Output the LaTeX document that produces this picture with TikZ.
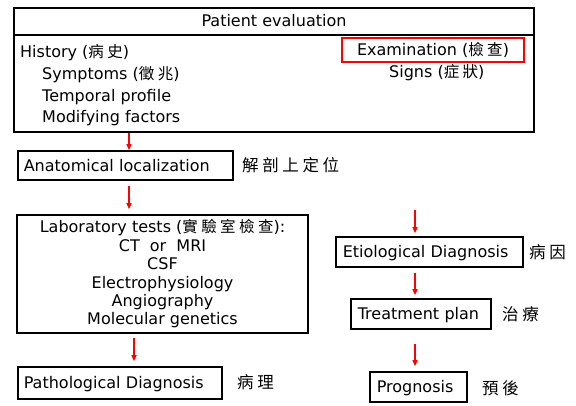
\documentclass[tikz,border=0pt]{standalone}
\usepackage{fontspec}
\setmainfont{DejaVu Sans}
\newfontfamily\cjkfont[LetterSpace=22]{Noto Sans CJK TC}
\usetikzlibrary{arrows.meta,calc}
\newcommand\cj[1]{{\cjkfont\fontsize{15.5}{17}\selectfont #1}}
\newcommand\cjl[1]{{\cjkfont\fontsize{16.5}{18}\selectfont #1}}
\begin{document}
\begin{tikzpicture}[x=1pt,y=-1pt,
  font=\fontsize{16}{18.4}\selectfont,
  boxL/.style={draw, line width=1.6pt, inner ysep=0pt, text height=11.7pt, text depth=0pt, align=left, anchor=west},
  txt/.style={inner sep=0pt, anchor=base west},
  lbl/.style={inner sep=0pt, anchor=west},
  arr/.style={draw=red, line width=1.2pt, -{Triangle[length=6pt,width=5pt]}}
]
\useasboundingbox (0,0) rectangle (576,406);

% top box
\node[draw, line width=1.8pt, minimum width=520pt, minimum height=124pt, inner sep=0pt, anchor=north west] (pe) at (13,7) {};
\draw[line width=1.2pt] ([yshift=-28pt]pe.north west) -- ([yshift=-28pt]pe.north east);
\node[inner sep=0pt, anchor=base] (title) at (274,27) {Patient evaluation};
\node[txt] (hist) at (20,58) {History (\cj{病史})};
\node[txt] (symp) at (42,80) {Symptoms (\cj{徵兆})};
\node[txt] (temp) at (42,102) {Temporal profile};
\node[txt] (modf) at (42,123) {Modifying factors};
\node[draw=red, line width=1.3pt, minimum width=182pt, minimum height=24pt, inner sep=0pt, text height=11.7pt, text depth=0pt] (exam) at (433,50) {Examination (\cj{檢查})};
\node[txt] (sign) at (389,78) {Signs (\cj{症狀})};

% left column
\node[boxL, inner xsep=6pt, text width=203pt, minimum height=29pt] (anat) at (17,165.5) {Anatomical localization};
\node[lbl] (anatl) at (242,165) {\cjl{解剖上定位}};

\node[draw, line width=1.6pt, minimum width=291pt, minimum height=118pt, inner sep=0pt, align=center] (lab) at (162.5,274)
 {Laboratory tests (\cj{實驗室檢查}):\\CT\ \ or\ \ MRI\\CSF\\Electrophysiology\\Angiography\\Molecular genetics};

\node[boxL, inner xsep=6pt, text width=192pt, minimum height=32pt] (path) at (17,383) {Pathological Diagnosis};
\node[lbl] (pathl) at (237,382) {\cjl{病理}};

% right column
\node[boxL, inner xsep=7pt, text width=173pt, minimum height=30pt] (etio) at (335,252) {Etiological Diagnosis};
\node[lbl] (etiol) at (529,252) {\cjl{病因}};
\node[boxL, inner xsep=7pt, text width=126pt, minimum height=30pt] (treat) at (350,314) {Treatment plan};
\node[lbl] (treatl) at (502,314) {\cjl{治療}};
\node[boxL, inner xsep=7pt, text width=83pt, minimum height=30pt] (prog) at (369,387) {Prognosis};
\node[lbl] (progl) at (482,388) {\cjl{預後}};

% arrow columns
\coordinate (ax) at (129,0);
\coordinate (bx) at (134,0);
\coordinate (rx) at (415,0);
\coordinate (rstart) at (415,210);

\draw[arr] (pe.south -| ax) -- (anat.north -| ax);
\draw[arr] ([yshift=-5pt]anat.south -| ax) -- ([yshift=5pt]lab.north -| ax);
\draw[arr] ([yshift=-4pt]lab.south -| bx) -- ([yshift=5pt]path.north -| bx);
\draw[arr] (rstart) -- ([yshift=3pt]etio.north -| rx);
\draw[arr] ([yshift=-5pt]etio.south -| rx) -- ([yshift=3pt]treat.north -| rx);
\draw[arr] ([yshift=-14pt]treat.south -| rx) -- ([yshift=5pt]prog.north -| rx);
\end{tikzpicture}
\end{document}
